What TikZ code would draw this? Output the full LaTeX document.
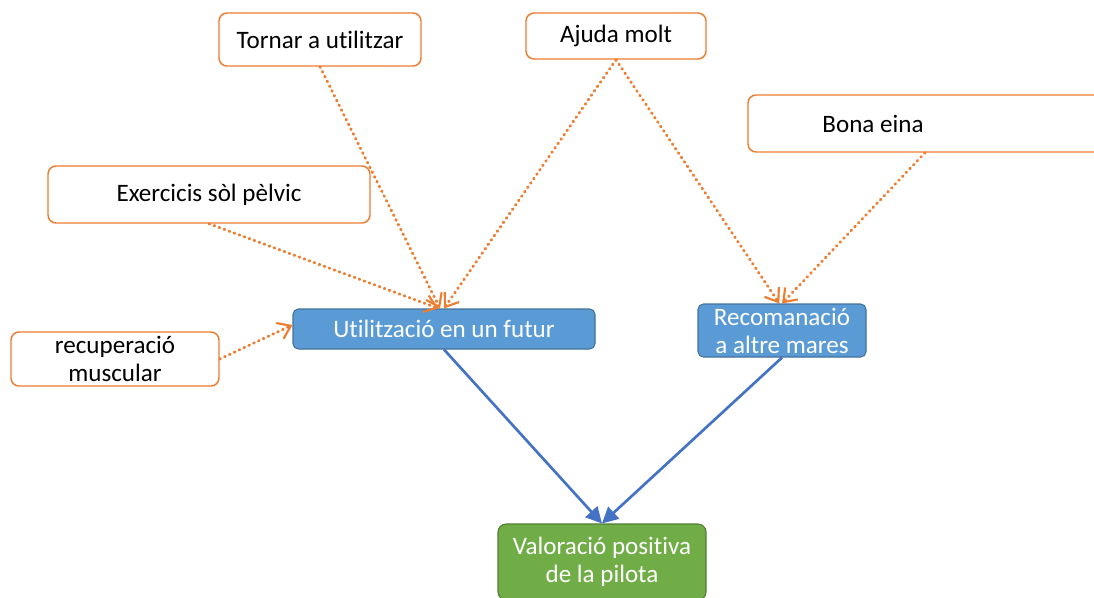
\documentclass[tikz,border=0pt]{standalone}
\usepackage{fontspec}
\setmainfont[Ligatures=NoCommon]{Carlito}
\usepackage{tikz}
\usetikzlibrary{positioning}
\usetikzlibrary{arrows.meta}

\definecolor{orangeline}{HTML}{ED7D31}
\definecolor{bluebox}{HTML}{5B9BD5}
\definecolor{blueedge}{HTML}{41719C}
\definecolor{bluearrow}{HTML}{4472C4}
\definecolor{greenbox}{HTML}{70AD47}
\definecolor{greenedge}{HTML}{507E32}

\begin{document}
\begin{tikzpicture}[x=0.75pt, y=-0.75pt,
		every node/.style={font=\fontsize{18.8}{21}\selectfont, align=center, inner sep=0pt},
		idea/.style={draw=orangeline, line width=1.1pt, rounded corners=6pt, fill=white},
		topic/.style={draw=blueedge, line width=0.8pt, rounded corners=4pt, fill=bluebox, text=white},
		result/.style={draw=greenedge, line width=0.8pt, rounded corners=6pt, fill=greenbox, text=white},
		dotarrow/.style={orangeline, line width=2.2pt, line cap=round, dash pattern=on 0.6pt off 3.4pt, -{Straight Barb[length=9pt, width=13pt, line width=1.6pt]}},
		mainarrow/.style={bluearrow, line width=2pt, -{Triangle[length=12pt, width=12pt]}}]
				\useasboundingbox (0,0) rectangle (1094,597);

				%Nodes
				\node[idea, minimum width=151.5pt, minimum height=39.75pt] (tornar) at (320,39.5) {Tornar a utilitzar};
				\node[idea, minimum width=135pt, minimum height=34.5pt] (ajuda) at (616,36) {Ajuda molt};
				\node[idea, minimum width=265.5pt, minimum height=42.75pt] (bona) at (925,123.5) {};
				\node (bonatext) at (873,124) {Bona eina};
				\node[idea, minimum width=241.5pt, minimum height=42.75pt] (exercicis) at (209,194.5) {Exercicis sòl pèlvic};
				\node[idea, minimum width=156pt, minimum height=40.5pt] (recuperacio) at (115,359) {recuperació\\muscular};
				\node[topic, minimum width=226.5pt, minimum height=30pt] (util) at (444,329) {Utilització en un futur};
				\node[topic, minimum width=126pt, minimum height=39.75pt] (recom) at (782,330.5) {Recomanació\\a altre mares};
				\node[result, minimum width=156pt, minimum height=57pt] (valor) at (602,562) {Valoració positiva\\de la pilota};

				%Lines
				\draw[dotarrow] (tornar.south) -- ([xshift=-3pt]util.north);
				\draw[dotarrow] (ajuda.south) -- (util.north);
				\draw[dotarrow] (exercicis.south) -- ([xshift=-4pt]util.north);
				\draw[dotarrow] (recuperacio.east) -- ([yshift=3pt]util.west);
				\draw[dotarrow] (ajuda.south) -- ([xshift=-2pt]recom.north);
				\draw[dotarrow] (bona.south) -- (recom.north);
				\draw[mainarrow] (util.south) -- (valor.north);
				\draw[mainarrow] (recom.south) -- (valor.north);

			\end{tikzpicture}
\end{document}
